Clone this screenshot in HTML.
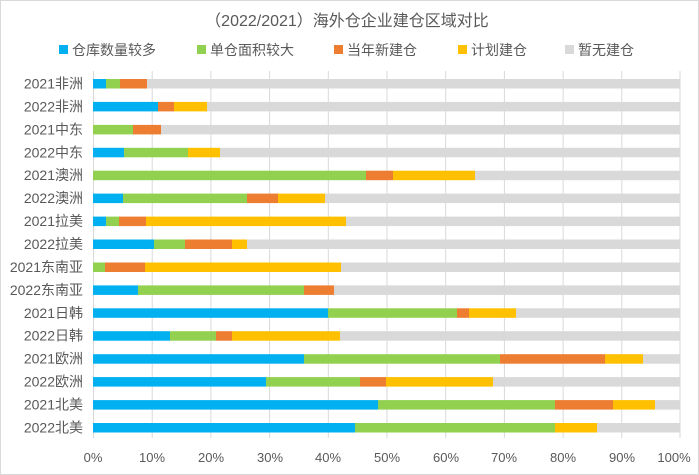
<!DOCTYPE html>
<html><head><meta charset="utf-8"><style>
html,body{margin:0;padding:0;background:#fff}
svg{display:block}
text{font-family:"Liberation Sans","Noto Sans CJK SC",sans-serif;fill:#595959}
</style></head><body>
<svg width="699" height="475" viewBox="0 0 699 475" xmlns="http://www.w3.org/2000/svg">
<rect x="0.5" y="0.5" width="698" height="474" fill="#fff" stroke="#d9d9d9"/>
<text x="347" y="26" font-size="16" text-anchor="middle">（2022/2021）海外仓企业建仓区域对比</text>
<g font-size="14">
<rect x="59" y="45" width="9" height="9" fill="#00b0f0"/><text x="72" y="55">仓库数量较多</text>
<rect x="197" y="45" width="9" height="9" fill="#92d050"/><text x="210" y="55">单仓面积较大</text>
<rect x="334" y="45" width="9" height="9" fill="#ed7d31"/><text x="347" y="55">当年新建仓</text>
<rect x="458" y="45" width="9" height="9" fill="#ffc000"/><text x="471" y="55">计划建仓</text>
<rect x="565" y="45" width="9" height="9" fill="#d9d9d9"/><text x="578" y="55">暂无建仓</text>
</g>
<g stroke="#d9d9d9" stroke-width="1">
<line x1="93.5" y1="71" x2="93.5" y2="438"/>
<line x1="152.2" y1="71" x2="152.2" y2="438"/>
<line x1="210.9" y1="71" x2="210.9" y2="438"/>
<line x1="269.6" y1="71" x2="269.6" y2="438"/>
<line x1="328.3" y1="71" x2="328.3" y2="438"/>
<line x1="387" y1="71" x2="387" y2="438"/>
<line x1="445.7" y1="71" x2="445.7" y2="438"/>
<line x1="504.4" y1="71" x2="504.4" y2="438"/>
<line x1="563.1" y1="71" x2="563.1" y2="438"/>
<line x1="621.8" y1="71" x2="621.8" y2="438"/>
<line x1="680" y1="71" x2="680" y2="438"/>
</g>
<g id="bars"></g>
<g font-size="13" text-anchor="middle">
<text x="93" y="462">0%</text><text x="152" y="462">10%</text><text x="211" y="462">20%</text><text x="270" y="462">30%</text><text x="328" y="462">40%</text><text x="387" y="462">50%</text><text x="446" y="462">60%</text><text x="504" y="462">70%</text><text x="563" y="462">80%</text><text x="622" y="462">90%</text><text x="674" y="462">100%</text>
</g>
<g font-size="14" text-anchor="end">
<text x="83" y="88.5">2021非洲</text>
<text x="83" y="111.4">2022非洲</text>
<text x="83" y="134.4">2021中东</text>
<text x="83" y="157.3">2022中东</text>
<text x="83" y="180.2">2021澳洲</text>
<text x="83" y="203.1">2022澳洲</text>
<text x="83" y="226.1">2021拉美</text>
<text x="83" y="249">2022拉美</text>
<text x="83" y="272">2021东南亚</text>
<text x="83" y="294.9">2022东南亚</text>
<text x="83" y="317.8">2021日韩</text>
<text x="83" y="340.7">2022日韩</text>
<text x="83" y="363.7">2021欧洲</text>
<text x="83" y="386.6">2022欧洲</text>
<text x="83" y="409.6">2021北美</text>
<text x="83" y="432.5">2022北美</text>
</g>
<g>
<!-- row1 y=79 -->
<rect x="93" y="79" width="13" height="9.5" fill="#00b0f0"/><rect x="106" y="79" width="14" height="9.5" fill="#92d050"/><rect x="120" y="79" width="27" height="9.5" fill="#ed7d31"/><rect x="147" y="79" width="533" height="9.5" fill="#d9d9d9"/>
<!-- row2 -->
<rect x="93" y="101.9" width="65" height="9.5" fill="#00b0f0"/><rect x="158" y="101.9" width="16" height="9.5" fill="#ed7d31"/><rect x="174" y="101.9" width="33" height="9.5" fill="#ffc000"/><rect x="207" y="101.9" width="473" height="9.5" fill="#d9d9d9"/>
<!-- row3 -->
<rect x="93" y="124.9" width="40" height="9.5" fill="#92d050"/><rect x="133" y="124.9" width="28" height="9.5" fill="#ed7d31"/><rect x="161" y="124.9" width="519" height="9.5" fill="#d9d9d9"/>
<!-- row4 -->
<rect x="93" y="147.8" width="31" height="9.5" fill="#00b0f0"/><rect x="124" y="147.8" width="64" height="9.5" fill="#92d050"/><rect x="188" y="147.8" width="32" height="9.5" fill="#ffc000"/><rect x="220" y="147.8" width="460" height="9.5" fill="#d9d9d9"/>
<!-- row5 -->
<rect x="93" y="170.7" width="273" height="9.5" fill="#92d050"/><rect x="366" y="170.7" width="27" height="9.5" fill="#ed7d31"/><rect x="393" y="170.7" width="82" height="9.5" fill="#ffc000"/><rect x="475" y="170.7" width="205" height="9.5" fill="#d9d9d9"/>
<!-- row6 -->
<rect x="93" y="193.6" width="30" height="9.5" fill="#00b0f0"/><rect x="123" y="193.6" width="124" height="9.5" fill="#92d050"/><rect x="247" y="193.6" width="31" height="9.5" fill="#ed7d31"/><rect x="278" y="193.6" width="47" height="9.5" fill="#ffc000"/><rect x="325" y="193.6" width="355" height="9.5" fill="#d9d9d9"/>
<!-- row7 -->
<rect x="93" y="216.6" width="13" height="9.5" fill="#00b0f0"/><rect x="106" y="216.6" width="13" height="9.5" fill="#92d050"/><rect x="119" y="216.6" width="27" height="9.5" fill="#ed7d31"/><rect x="146" y="216.6" width="200" height="9.5" fill="#ffc000"/><rect x="346" y="216.6" width="334" height="9.5" fill="#d9d9d9"/>
<!-- row8 -->
<rect x="93" y="239.5" width="61" height="9.5" fill="#00b0f0"/><rect x="154" y="239.5" width="31" height="9.5" fill="#92d050"/><rect x="185" y="239.5" width="47" height="9.5" fill="#ed7d31"/><rect x="232" y="239.5" width="15" height="9.5" fill="#ffc000"/><rect x="247" y="239.5" width="433" height="9.5" fill="#d9d9d9"/>
<!-- row9 -->
<rect x="93" y="262.5" width="12" height="9.5" fill="#92d050"/><rect x="105" y="262.5" width="40" height="9.5" fill="#ed7d31"/><rect x="145" y="262.5" width="196" height="9.5" fill="#ffc000"/><rect x="341" y="262.5" width="339" height="9.5" fill="#d9d9d9"/>
<!-- row10 -->
<rect x="93" y="285.4" width="45" height="9.5" fill="#00b0f0"/><rect x="138" y="285.4" width="166" height="9.5" fill="#92d050"/><rect x="304" y="285.4" width="30" height="9.5" fill="#ed7d31"/><rect x="334" y="285.4" width="346" height="9.5" fill="#d9d9d9"/>
<!-- row11 -->
<rect x="93" y="308.3" width="235" height="9.5" fill="#00b0f0"/><rect x="328" y="308.3" width="129" height="9.5" fill="#92d050"/><rect x="457" y="308.3" width="12" height="9.5" fill="#ed7d31"/><rect x="469" y="308.3" width="47" height="9.5" fill="#ffc000"/><rect x="516" y="308.3" width="164" height="9.5" fill="#d9d9d9"/>
<!-- row12 -->
<rect x="93" y="331.2" width="77" height="9.5" fill="#00b0f0"/><rect x="170" y="331.2" width="46" height="9.5" fill="#92d050"/><rect x="216" y="331.2" width="16" height="9.5" fill="#ed7d31"/><rect x="232" y="331.2" width="108" height="9.5" fill="#ffc000"/><rect x="340" y="331.2" width="340" height="9.5" fill="#d9d9d9"/>
<!-- row13 -->
<rect x="93" y="354.2" width="211" height="9.5" fill="#00b0f0"/><rect x="304" y="354.2" width="196" height="9.5" fill="#92d050"/><rect x="500" y="354.2" width="105" height="9.5" fill="#ed7d31"/><rect x="605" y="354.2" width="38" height="9.5" fill="#ffc000"/><rect x="643" y="354.2" width="37" height="9.5" fill="#d9d9d9"/>
<!-- row14 -->
<rect x="93" y="377.1" width="173" height="9.5" fill="#00b0f0"/><rect x="266" y="377.1" width="94" height="9.5" fill="#92d050"/><rect x="360" y="377.1" width="26" height="9.5" fill="#ed7d31"/><rect x="386" y="377.1" width="107" height="9.5" fill="#ffc000"/><rect x="493" y="377.1" width="187" height="9.5" fill="#d9d9d9"/>
<!-- row15 -->
<rect x="93" y="400.1" width="285" height="9.5" fill="#00b0f0"/><rect x="378" y="400.1" width="177" height="9.5" fill="#92d050"/><rect x="555" y="400.1" width="58" height="9.5" fill="#ed7d31"/><rect x="613" y="400.1" width="42" height="9.5" fill="#ffc000"/><rect x="655" y="400.1" width="25" height="9.5" fill="#d9d9d9"/>
<!-- row16 -->
<rect x="93" y="423" width="262" height="9.5" fill="#00b0f0"/><rect x="355" y="423" width="200" height="9.5" fill="#92d050"/><rect x="555" y="423" width="42" height="9.5" fill="#ffc000"/><rect x="597" y="423" width="83" height="9.5" fill="#d9d9d9"/>
</g>
</svg>
</body></html>
